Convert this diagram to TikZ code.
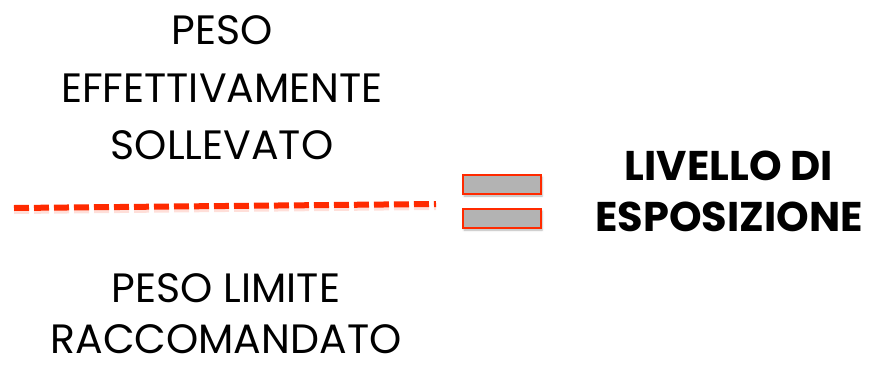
\documentclass[tikz,border=0pt]{standalone}
\usepackage{fontspec}
\setmainfont{Poppins}
\usetikzlibrary{shadows.blur}
\definecolor{lred}{HTML}{FF2A00}
\definecolor{lgray}{HTML}{B3B3B3}
\tikzset{
  txt/.style={anchor=base, inner sep=0pt, text depth=0pt, font=\fontsize{41}{41}\selectfont},
  btxt/.style={anchor=base, inner sep=0pt, text depth=0pt, font=\fontsize{41.5}{41.5}\selectfont\bfseries},
  eqbar/.style={draw=lred, fill=lgray, line width=2pt, blur shadow={shadow xshift=1pt, shadow yshift=-2pt, shadow blur steps=5, shadow opacity=30}},
  fracline/.style={draw=lred, line width=6pt, dash pattern=on 15pt off 5pt}
}
\begin{document}
\begin{tikzpicture}[x=1pt,y=-1pt]
\useasboundingbox (0,0) rectangle (869,364);
\node[txt] (t1) at (222,44) {PESO};
\node[txt] (t2) at (222,102) {EFFETTIVAMENTE};
\node[txt] (t3) at (222,159) {SOLLEVATO};
\node[txt] (b1) at (226,302) {PESO LIMITE};
\node[txt] (b2) at (226,353) {RACCOMANDATO};
\coordinate (l1) at (14,208);
\coordinate (l2) at (436,204);
\draw[fracline, opacity=0.15] ([yshift=-3pt]l1) -- ([yshift=-3pt]l2);
\draw[fracline] (l1) -- (l2);
\node[eqbar, minimum width=78pt, minimum height=19pt, inner sep=0pt] (e1) at (502,184.5) {};
\node[eqbar, minimum width=78pt, minimum height=19pt, inner sep=0pt] (e2) at (502,218.5) {};
\node[btxt] (r1) at (729,180) {LIVELLO DI};
\node[btxt] (r2) at (729,231) {ESPOSIZIONE};
\end{tikzpicture}
\end{document}
